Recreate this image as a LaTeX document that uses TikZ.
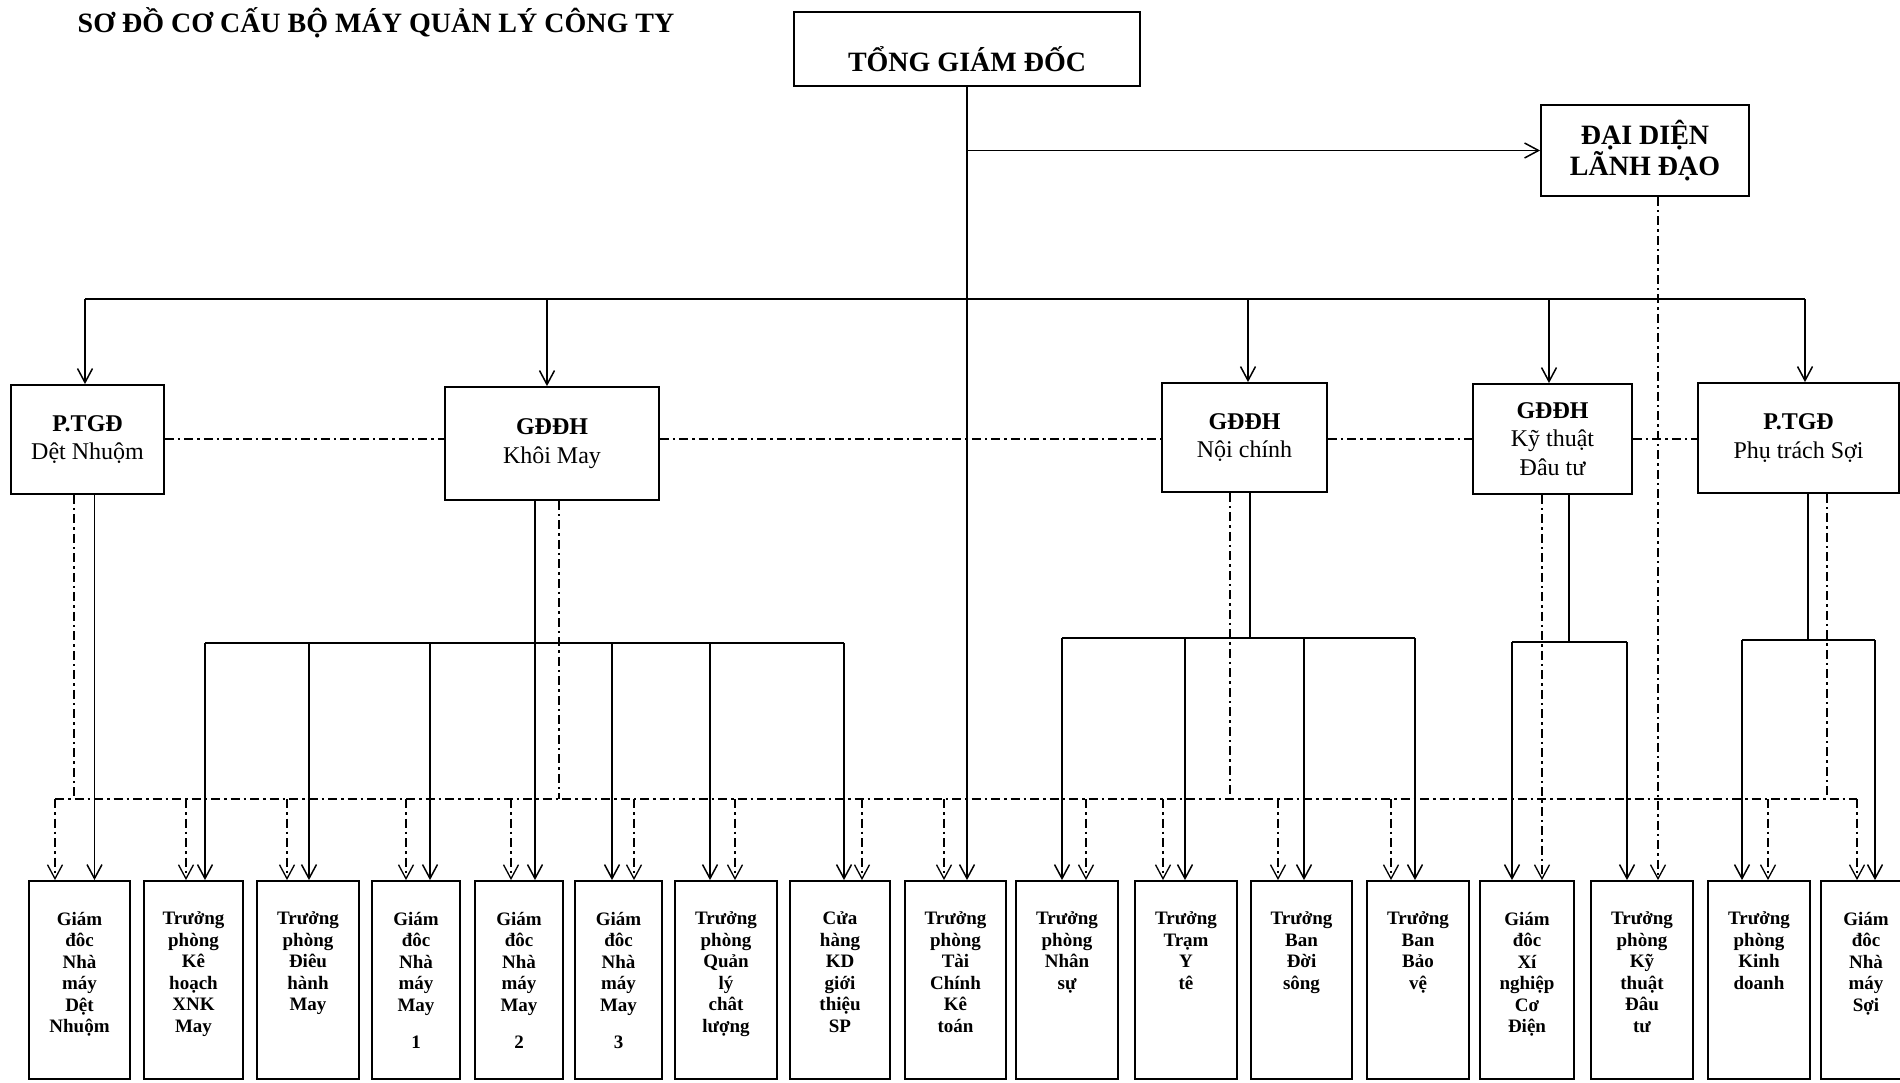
\documentclass[tikz,border=0pt]{standalone}
\usepackage{fontspec}
\setmainfont{Liberation Serif}
\usetikzlibrary{arrows.meta}

\newcommand{\obox}[2]{\parbox[c][198pt][t]{#1pt}{\centering\vspace*{31pt}#2}}

\tikzset{
    box/.style={draw, line width=1.8pt, inner sep=0pt},
    mid/.style={align=center, font=\fontsize{24}{28.5}\selectfont},
    sub/.style={box, font=\fontsize{19}{21.5}\selectfont\bfseries},
    arr/.style={-{Straight Barb[length=14pt,width=15pt]}},
    dd/.style={line width=1.3pt, dash pattern=on 9pt off 4pt on 2.5pt off 4pt}
}

\begin{document}
\begin{tikzpicture}[x=1pt, y=-1pt, line width=1.5pt]
    \useasboundingbox (0,0) rectangle (1900,1083);

    \node[font=\fontsize{28}{32}\selectfont\bfseries] (title) at (376,23) {SƠ ĐỒ CƠ CẤU BỘ MÁY QUẢN LÝ CÔNG TY};

    \node[box, minimum width=346pt, minimum height=74pt, font=\fontsize{28}{32}\selectfont\bfseries, text height=45pt, text depth=0pt] (tgd) at (967,49) {TỔNG GIÁM ĐỐC};
    \node[box, minimum width=208pt, minimum height=91pt, align=center, font=\fontsize{28}{29}\selectfont\bfseries] (ddld) at (1645,150.5) {ĐẠI DIỆN\\LÃNH ĐẠO};

    \node[box, mid, minimum width=153pt, minimum height=109pt] (ptgdDN) at (87.5,439.5) {{\bfseries P.TGĐ}\\Dệt Nhuộm};
    \node[box, mid, minimum width=214pt, minimum height=113pt] (gdKM) at (552,443.5) {{\bfseries GĐĐH}\\Khôi May};
    \node[box, mid, minimum width=165pt, minimum height=109pt] (gdNC) at (1244.5,437.5) {{\bfseries GĐĐH}\\Nội chính};
    \node[box, mid, minimum width=159pt, minimum height=110pt] (gdKT) at (1552.5,439) {{\bfseries GĐĐH}\\Kỹ thuật\\Đâu tư};
    \node[box, mid, minimum width=201pt, minimum height=110pt] (ptgdS) at (1798.5,438) {{\bfseries P.TGĐ}\\Phụ trách Sợi};

    \foreach \n/\cx/\w/\txt in {
        b1/79.5/101/{Giám\\đôc\\Nhà\\máy\\Dệt\\Nhuộm},
        b2/193.5/99/{Trưởng\\phòng\\Kê\\hoạch\\XNK\\May},
        b3/308/102/{Trưởng\\phòng\\Điêu\\hành\\May},
        b4/416/88/{Giám\\đôc\\Nhà\\máy\\May\\[16pt]1},
        b5/519/88/{Giám\\đôc\\Nhà\\máy\\May\\[16pt]2},
        b6/618.5/87/{Giám\\đôc\\Nhà\\máy\\May\\[16pt]3},
        b7/726/102/{Trưởng\\phòng\\Quản\\lý\\chât\\lượng},
        b8/840/100/{Cửa\\hàng\\KD\\giới\\thiệu\\SP},
        b9/955.5/101/{Trưởng\\phòng\\Tài\\Chính\\Kê\\toán},
        b10/1067/102/{Trưởng\\phòng\\Nhân\\sự},
        b11/1186/102/{Trưởng\\Trạm\\Y\\tê},
        b12/1301.5/101/{Trưởng\\Ban\\Đời\\sông},
        b13/1418/102/{Trưởng\\Ban\\Bảo\\vệ},
        b14/1527/94/{Giám\\đôc\\Xí\\nghiệp\\Cơ\\Điện},
        b15/1642/102/{Trưởng\\phòng\\Kỹ\\thuật\\Đâu\\tư},
        b16/1759/102/{Trưởng\\phòng\\Kinh\\doanh},
        b17/1866/90/{Giám\\đôc\\Nhà\\máy\\Sợi}}
        \node[sub, minimum width=\w pt, minimum height=198pt] (\n) at (\cx,980) {\obox{\w}{\txt}};

    \coordinate (tbus) at (0,299);
    \coordinate (hl) at (0,439);
    \coordinate (kmbus) at (0,643);
    \coordinate (ncbus) at (0,638);
    \coordinate (ktbus) at (0,642);
    \coordinate (sbus) at (0,640);
    \coordinate (dbus) at (0,799);

    \draw[arr] (tgd.south) -- (tgd.south |- b9.north);
    \draw[arr] (tgd.south |- ddld.west) -- (ddld.west);
    \draw ([xshift=-2.5pt]ptgdDN.north |- tbus) -- ([xshift=6.5pt]ptgdS.north |- tbus);
    \foreach \n/\s in {ptgdDN/-2.5, gdKM/-5, gdNC/3.5, gdKT/-3.5, ptgdS/6.5}
        \draw[arr] ([xshift=\s pt]\n.north |- tbus) -- ([xshift=\s pt]\n.north);

    \draw[dd] (ptgdDN.east |- hl) -- (gdKM.west |- hl);
    \draw[dd] (gdKM.east |- hl) -- (gdNC.west |- hl);
    \draw[dd] (gdNC.east |- hl) -- (gdKT.west |- hl);
    \draw[dd] (gdKT.east |- hl) -- (ptgdS.west |- hl);

    \draw[arr] ([xshift=15pt]b1.north |- ptgdDN.south) -- ([xshift=15pt]b1.north);

    \draw[arr] ([xshift=16pt]b5.north |- gdKM.south) -- ([xshift=16pt]b5.north);
    \draw ([xshift=11.5pt]b2.north |- kmbus) -- ([xshift=4pt]b8.north |- kmbus);
    \foreach \n/\s in {b2/11.5, b3/1, b4/14, b6/-6.5, b7/-16, b8/4}
        \draw[arr] ([xshift=\s pt]\n.north |- kmbus) -- ([xshift=\s pt]\n.north);

    \draw ([xshift=5.5pt]gdNC.south) -- ([xshift=5.5pt]gdNC.south |- ncbus);
    \draw ([xshift=-5pt]b10.north |- ncbus) -- ([xshift=-3pt]b13.north |- ncbus);
    \foreach \n/\s in {b10/-5, b11/-1, b12/2.5, b13/-3}
        \draw[arr] ([xshift=\s pt]\n.north |- ncbus) -- ([xshift=\s pt]\n.north);

    \draw ([xshift=16.5pt]gdKT.south) -- ([xshift=16.5pt]gdKT.south |- ktbus);
    \draw ([xshift=-15pt]b14.north |- ktbus) -- ([xshift=-15pt]b15.north |- ktbus);
    \foreach \n/\s in {b14/-15, b15/-15}
        \draw[arr] ([xshift=\s pt]\n.north |- ktbus) -- ([xshift=\s pt]\n.north);

    \draw ([xshift=9.5pt]ptgdS.south) -- ([xshift=9.5pt]ptgdS.south |- sbus);
    \draw ([xshift=-17pt]b16.north |- sbus) -- ([xshift=9pt]b17.north |- sbus);
    \foreach \n/\s in {b16/-17, b17/9}
        \draw[arr] ([xshift=\s pt]\n.north |- sbus) -- ([xshift=\s pt]\n.north);

    \draw[dd] ([xshift=-13.5pt]ptgdDN.south) -- ([xshift=-13.5pt]ptgdDN.south |- dbus);
    \draw[dd] ([xshift=7pt]gdKM.south) -- ([xshift=7pt]gdKM.south |- dbus);
    \draw[dd] ([xshift=-14.5pt]gdNC.south) -- ([xshift=-14.5pt]gdNC.south |- dbus);
    \draw[dd] ([xshift=28.5pt]ptgdS.south) -- ([xshift=28.5pt]ptgdS.south |- dbus);
    \draw[dd, arr] ([xshift=15pt]b14.north |- gdKT.south) -- ([xshift=15pt]b14.north);
    \draw[dd, arr] ([xshift=16pt]b15.north |- ddld.south) -- ([xshift=16pt]b15.north);

    \draw[dd] ([xshift=-24.5pt]b1.north |- dbus) -- ([xshift=-9pt]b17.north |- dbus);
    \foreach \n/\d in {b1/-24.5, b2/-7.5, b3/-21, b4/-10, b5/-8, b6/15.5, b7/9, b8/22, b9/-11.5,
                       b10/19, b11/-23, b12/-23.5, b13/-27, b16/9, b17/-9}
        \draw[dd, arr] ([xshift=\d pt]\n.north |- dbus) -- ([xshift=\d pt]\n.north);
\end{tikzpicture}
\end{document}
